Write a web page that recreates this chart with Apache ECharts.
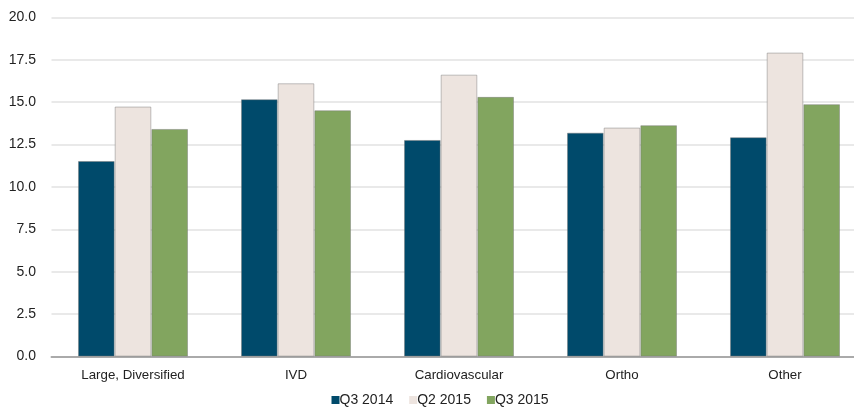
<!DOCTYPE html>
<html>
<head>
<meta charset="utf-8">
<script src="https://cdn.jsdelivr.net/npm/echarts@6/dist/echarts.min.js"></script>
<style>
  html, body { margin: 0; padding: 0; background: #fff; }
  #chart { width: 854px; height: 409px; }
</style>
</head>
<body>
<div id="chart"></div>
<script>
const categories = ['Large, Diversified', 'IVD', 'Cardiovascular', 'Ortho', 'Other'];
const q3_2014 = [11.53, 15.17, 12.77, 13.20, 12.93];
const q2_2015 = [14.74, 16.11, 16.62, 13.50, 17.92];
const q3_2015 = [13.42, 14.52, 15.31, 13.64, 14.88];
const seriesNames = ['Q3 2014', 'Q2 2015', 'Q3 2015'];
const colors = ['#004a6b', '#ede4df', '#82a55f'];

const font = 'Liberation Sans, Arial, sans-serif';
const chart = echarts.init(document.getElementById('chart'));

const makeBar = (name, data, color) => ({
  name: name,
  type: 'bar',
  data: data,
  barGap: '0%',
  barCategoryGap: '32.5%',
  itemStyle: { color: color, borderColor: 'rgba(120,120,120,0.45)', borderWidth: 1 }
});

chart.setOption({
  animation: false,
  color: colors,
  // the plot runs a little past the right edge of the canvas
  grid: {
    left: 51.5, width: 815, top: 17.3, bottom: 52.4,
    containLabel: false, outerBoundsMode: 'none'
  },
  legend: {
    bottom: 2,
    left: 331.5,
    padding: 0,
    itemWidth: 8,
    itemHeight: 8,
    itemGap: 16,
    icon: 'rect',
    itemStyle: { borderWidth: 0 },
    textStyle: { fontFamily: font, fontSize: 14, color: '#222', padding: [0, 0, 0, -5] },
    data: seriesNames
  },
  xAxis: {
    type: 'category',
    data: categories,
    axisLine: { lineStyle: { color: '#aaa', width: 2 } },
    axisTick: { show: false },
    axisLabel: { fontFamily: font, fontSize: 13.3, color: '#222', margin: 12 }
  },
  yAxis: {
    type: 'value',
    min: 0,
    max: 20,
    interval: 2.5,
    axisLine: { show: false },
    axisTick: { show: false },
    splitLine: { lineStyle: { color: '#e2e2e2', width: 1.5 } },
    axisLabel: {
      fontFamily: font, fontSize: 14, color: '#222', margin: 15.5,
      formatter: v => v.toFixed(1)
    }
  },
  series: [
    makeBar(seriesNames[0], q3_2014, colors[0]),
    makeBar(seriesNames[1], q2_2015, colors[1]),
    makeBar(seriesNames[2], q3_2015, colors[2])
  ]
});
</script>
</body>
</html>
